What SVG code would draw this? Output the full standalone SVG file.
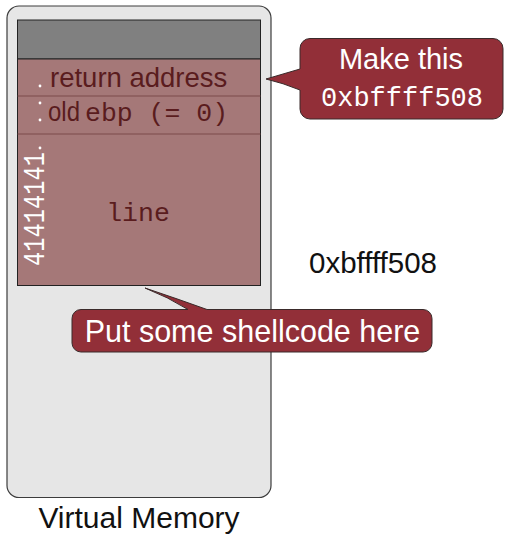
<svg xmlns="http://www.w3.org/2000/svg" width="506" height="536" viewBox="0 0 506 536">
<style>
.sans{font-family:"Liberation Sans",Arial,sans-serif}
.mono{font-family:"Liberation Mono","Courier New",monospace}
.dark{fill:#5a1c1e}
.wht{fill:#ffffff}
.callout{fill:#922f38;stroke:#3a2a2a;stroke-width:1}
.div{stroke:#7d4a4a;stroke-width:1.2}
</style>
<rect width="506" height="536" fill="#ffffff"/>
<g id="virtual-memory">
  <rect x="7" y="6" width="264" height="491.5" rx="12" fill="#e6e6e6" stroke="#3c3c3c" stroke-width="1.2"/>
  <text class="sans" x="139" y="528" font-size="30" text-anchor="middle" fill="#111">Virtual Memory</text>
</g>
<g id="stack">
  <rect x="17.5" y="20" width="243" height="39" fill="#808080" stroke="#222" stroke-width="1"/>
  <rect x="17.5" y="59" width="243" height="226.5" fill="#a57878" stroke="#222" stroke-width="1"/>
  <line class="div" x1="17.5" y1="96" x2="260.5" y2="96"/>
  <line class="div" x1="17.5" y1="134" x2="260.5" y2="134"/>
</g>
<g id="return-address">
  <text class="sans dark" x="50" y="87" font-size="27.5">return address</text>
</g>
<g id="old-ebp">
  <text class="dark" x="48" y="121"><tspan class="sans" font-size="27" textLength="32" lengthAdjust="spacingAndGlyphs">old</tspan><tspan class="mono" x="85" font-size="26.5">ebp (= 0)</tspan></text>
</g>
<g id="line-buffer">
  <text class="mono dark" x="138" y="221" font-size="26.5" text-anchor="middle">line</text>
  <text class="mono wht" transform="translate(44,266) rotate(-90)" font-size="30" textLength="114" lengthAdjust="spacingAndGlyphs">41414141</text>
  <circle class="wht" cx="40" cy="86" r="1.4"/>
  <circle class="wht" cx="40" cy="103" r="1.4"/>
  <circle class="wht" cx="40" cy="120" r="1.4"/>
  <circle class="wht" cx="40" cy="148" r="1.4"/>
</g>
<g id="address-label">
  <text class="sans" x="373" y="273" font-size="29.5" text-anchor="middle" fill="#111">0xbffff508</text>
</g>
<g id="connectors">
  <g id="callout-make-this">
    <path class="callout" d="M310,38.5 H493 A10,10 0 0 1 503,48.5 V109 A10,10 0 0 1 493,119 H310 A10,10 0 0 1 300,109 V90 Q283,83 266,79 Q283,74 300,69 V48.5 A10,10 0 0 1 310,38.5 Z"/>
    <text class="sans wht" x="401" y="69" font-size="29" text-anchor="middle">Make this</text>
    <text class="mono wht" x="402" y="106" font-size="27" text-anchor="middle">0xbffff508</text>
  </g>
  <g id="callout-shellcode">
    <path class="callout" d="M81,309.5 H188 Q168,297 145,288 Q178,299 207,309.5 H423 A9,9 0 0 1 432,318.5 V343 A9,9 0 0 1 423,352 H81 A9,9 0 0 1 72,343 V318.5 A9,9 0 0 1 81,309.5 Z"/>
    <text class="sans wht" x="252.5" y="341.5" font-size="30.5" text-anchor="middle">Put some shellcode here</text>
  </g>
</g>
</svg>
